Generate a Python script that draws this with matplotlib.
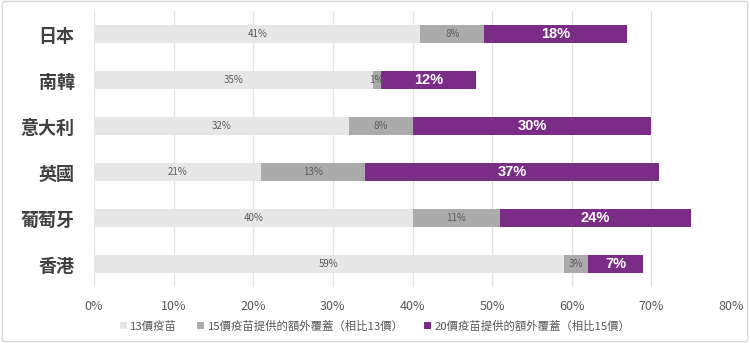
import matplotlib
matplotlib.use("Agg")
import matplotlib.pyplot as plt
from matplotlib.patches import FancyBboxPatch

plt.rcParams['font.family'] = ['Noto Sans CJK TC', 'DejaVu Sans']

countries = ["日本", "南韓", "意大利", "英國", "葡萄牙", "香港"]
pcv13 = [41, 35, 32, 21, 40, 59]
pcv15_extra = [8, 1, 8, 13, 11, 3]
pcv20_extra = [18, 12, 30, 37, 24, 7]
series_names = ["13價疫苗", "15價疫苗提供的額外覆蓋（相比13價）", "20價疫苗提供的額外覆蓋（相比15價）"]
xticks = [0, 10, 20, 30, 40, 50, 60, 70, 80]

c1, c2, c3 = "#E7E7E7", "#ABABAB", "#7B2C87"
txt = "#595959"

fig = plt.figure(figsize=(7.5, 3.43), dpi=100)
ax = fig.add_axes([94/750, 1-287/343, (731-94)/750, (287-11)/343])

y = list(range(len(countries)))
h = 0.39
b1 = ax.barh(y, pcv13, height=h, color=c1, zorder=2)
left2 = pcv13
b2 = ax.barh(y, pcv15_extra, left=left2, height=h, color=c2, zorder=2)
left3 = [a + b for a, b in zip(pcv13, pcv15_extra)]
b3 = ax.barh(y, pcv20_extra, left=left3, height=h, color=c3, zorder=2)

for i in y:
    ax.text(pcv13[i]/2, i, f"{pcv13[i]}%", ha='center', va='center', fontsize=7, color=txt, zorder=3)
    ax.text(left2[i] + pcv15_extra[i]/2, i, f"{pcv15_extra[i]}%", ha='center', va='center', fontsize=7, color=txt, zorder=3)
    ax.text(left3[i] + pcv20_extra[i]/2, i, f"{pcv20_extra[i]}%", ha='center', va='center', fontsize=10.5, color='white', fontweight='bold', zorder=3, family=['Liberation Sans', 'DejaVu Sans'])

ax.set_xlim(0, 80)
ax.set_ylim(len(countries)-0.5, -0.5)
ax.set_xticks(xticks)
ax.set_xticklabels([f"{t}%" for t in xticks], fontsize=9, color=txt)
ax.set_yticks(y)
ax.set_yticklabels(countries, fontsize=13, fontweight='bold', color="#404040")
ax.tick_params(axis='both', length=0)
ax.tick_params(axis='x', pad=9)
ax.tick_params(axis='y', pad=14)
ax.grid(axis='x', color="#E3E3E3", linewidth=0.9, zorder=0)
for s in ax.spines.values():
    s.set_visible(False)

leg = fig.legend([b1, b2, b3], series_names, loc='center', bbox_to_anchor=(0.5, 1-326/343),
                 ncol=3, frameon=False, fontsize=8.2, labelcolor=txt,
                 handlelength=0.6, handleheight=0.6, handletextpad=0.3, columnspacing=1.8)

border = FancyBboxPatch((0.003, 0.004), 0.994, 0.992, boxstyle="round,pad=0,rounding_size=0.005",
                        transform=fig.transFigure, fill=False, edgecolor="#D9D9D9", linewidth=1)
fig.patches.append(border)

fig.savefig("out.png", dpi=100)
